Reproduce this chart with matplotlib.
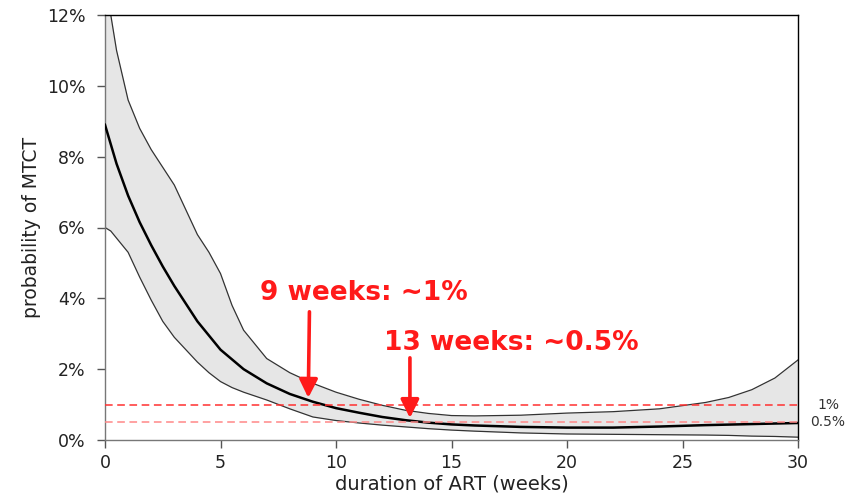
import matplotlib
matplotlib.use("Agg")
import matplotlib.pyplot as plt
from matplotlib.ticker import FuncFormatter

plt.rcParams['font.family'] = ['DejaVu Sans']

# Data (percent)
weeks_mean = [0, 0.5, 1, 1.5, 2, 2.5, 3, 3.5, 4, 5, 6, 7, 8, 9, 10, 11, 12, 13, 14, 15,
              16, 18, 20, 22, 24, 26, 28, 30]
mean_pct = [8.9, 7.8, 6.9, 6.15, 5.5, 4.9, 4.35, 3.85, 3.35, 2.55, 2.0, 1.6, 1.3, 1.08, 0.9,
            0.77, 0.65, 0.56, 0.49, 0.44, 0.41, 0.37, 0.35, 0.35, 0.38, 0.42, 0.45, 0.48]

weeks_band = [0, 0.25, 0.5, 1, 1.5, 2, 2.5, 3, 3.5, 4, 4.5, 5, 5.5, 6, 7, 8, 9, 10, 11, 12,
              13, 14, 15, 16, 18, 20, 22, 24, 26, 27, 28, 29, 30]
upper_pct = [13.5, 12.0, 11.0, 9.6, 8.8, 8.2, 7.7, 7.2, 6.5, 5.8, 5.3, 4.7, 3.8, 3.1, 2.3, 1.9,
             1.6, 1.35, 1.15, 0.98, 0.84, 0.75, 0.69, 0.68, 0.7, 0.76, 0.8, 0.88, 1.06, 1.2,
             1.42, 1.75, 2.26]
lower_pct = [6.0, 5.9, 5.7, 5.3, 4.6, 3.95, 3.35, 2.9, 2.55, 2.2, 1.9, 1.65, 1.48, 1.35, 1.13,
             0.88, 0.65, 0.55, 0.48, 0.42, 0.37, 0.32, 0.28, 0.25, 0.2, 0.17, 0.16, 0.15, 0.14,
             0.13, 0.11, 0.1, 0.08]

ref_levels = [1.0, 0.5]
ref_labels = ["1%", "0.5%"]
ref_colors = ["#ff3030", "#ff8888"]

x_ticks = [0, 5, 10, 15, 20, 25, 30]
y_ticks = [0, 2, 4, 6, 8, 10, 12]

annotations = [
    {"text": "9 weeks: ~1%", "text_xy": (11.2, 4.15), "tail": (8.85, 3.62), "tip": (8.8, 1.19)},
    {"text": "13 weeks: ~0.5%", "text_xy": (17.6, 2.74), "tail": (13.2, 2.32), "tip": (13.2, 0.62)},
]

fig = plt.figure(figsize=(8.46, 4.97), dpi=100)
ax = fig.add_axes([105/846, 1-440/497, (798-105)/846, (440-15)/497])

ax.fill_between(weeks_band, lower_pct, upper_pct, color="#e6e6e6", lw=0, zorder=1)
ax.plot(weeks_band, upper_pct, color="#333333", lw=0.9, zorder=2)
ax.plot(weeks_band, lower_pct, color="#333333", lw=0.9, zorder=2)
ax.plot(weeks_mean, mean_pct, color="black", lw=1.8, zorder=3)

for lvl, lab, col in zip(ref_levels, ref_labels, ref_colors):
    ax.axhline(lvl, color=col, lw=1.1, ls=(0, (5, 3)), zorder=4)
    ax.text(31.3, lvl, lab, ha="center", va="center", fontsize=10, color="#333333",
            clip_on=False)

for a in annotations:
    ax.annotate("", xy=a["tip"], xytext=a["tail"],
                arrowprops=dict(arrowstyle="-|>,head_length=1.1,head_width=0.55",
                                color="#ff1a1a", lw=2.6, shrinkA=0, shrinkB=0),
                zorder=5)
    ax.text(a["text_xy"][0], a["text_xy"][1], a["text"], color="#ff1a1a",
            fontsize=19, fontweight="bold", ha="center", va="center", zorder=5)

ax.set_xlim(0, 30)
ax.set_ylim(0, 12)
ax.set_xticks(x_ticks)
ax.set_yticks(y_ticks)
ax.yaxis.set_major_formatter(FuncFormatter(lambda v, p: f"{v:.0f}%"))
ax.tick_params(axis="both", direction="out", length=6, width=1, color="#555555",
               labelsize=12.5, labelcolor="#222222")
ax.tick_params(axis="y", pad=8)
ax.tick_params(axis="x", pad=4)

for s in ["left", "bottom"]:
    ax.spines[s].set_color("#777777")
    ax.spines[s].set_linewidth(1.0)
for s in ["top", "right"]:
    ax.spines[s].set_color("black")
    ax.spines[s].set_linewidth(1.0)

ax.set_xlabel("duration of ART (weeks)", fontsize=14, color="#222222")
ax.xaxis.set_label_coords(0.5, -0.081)
ax.set_ylabel("probability of MTCT", fontsize=13.5, color="#222222", labelpad=4)

fig.savefig("out.png", dpi=100)
